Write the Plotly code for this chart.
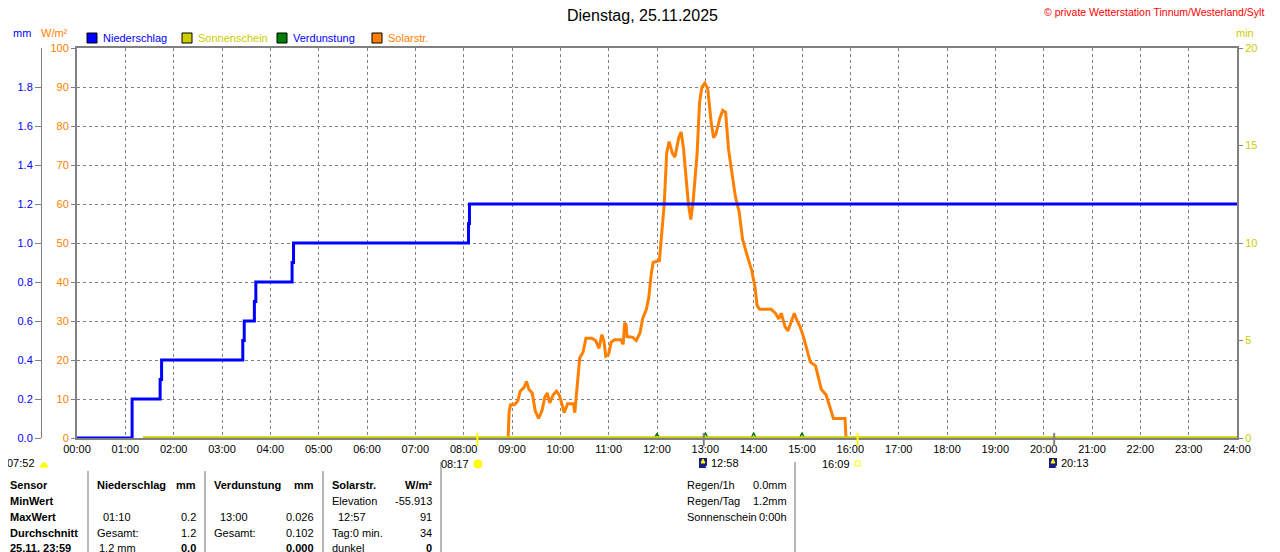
import plotly.graph_objects as go

# ---------------------------------------------------------------------------
# Data (times in hours of the day)
# ---------------------------------------------------------------------------

hour_labels = [f"{h:02d}:00" for h in range(25)]

rain_time = [0, 1.14, 1.72, 1.75, 3.43, 3.46, 3.67, 3.70, 4.45, 4.48, 8.10, 8.12, 24]
rain_mm = [0, 0.2, 0.3, 0.4, 0.5, 0.6, 0.7, 0.8, 0.9, 1.0, 1.1, 1.2, 1.2]

sun_time = [1.37, 24]
sun_min = [0, 0]

evap_time = [1.37, 11.95, 12.0, 12.05, 12.95, 13.0, 13.05, 13.95, 14.0, 14.05,
             14.95, 15.0, 15.05, 24]
evap_mm = [0, 0, 0.024, 0, 0, 0.026, 0, 0, 0.026, 0, 0, 0.026, 0, 0]

solar_time = [
    8.92, 8.94, 8.97, 9.05, 9.12, 9.17, 9.25, 9.30, 9.35, 9.42, 9.48, 9.55,
    9.62, 9.68, 9.73, 9.78, 9.85, 9.92, 9.98, 10.03, 10.08, 10.15, 10.27,
    10.30, 10.33, 10.40, 10.47, 10.53, 10.65, 10.73, 10.80, 10.86, 10.90,
    10.94, 11.00, 11.05, 11.12, 11.25, 11.30, 11.33, 11.36, 11.38, 11.50,
    11.57, 11.65, 11.70, 11.78, 11.83, 11.88, 11.92, 12.05, 12.10, 12.15,
    12.20, 12.25, 12.32, 12.37, 12.45, 12.50, 12.55, 12.60, 12.65, 12.70,
    12.75, 12.83, 12.88, 12.93, 12.99, 13.05, 13.12, 13.17, 13.22, 13.30,
    13.36, 13.42, 13.48, 13.55, 13.62, 13.70, 13.77, 13.86, 13.96, 14.03,
    14.07, 14.12, 14.36, 14.45, 14.52, 14.57, 14.65, 14.71, 14.78, 14.84,
    14.90, 14.96, 15.03, 15.10, 15.17, 15.28, 15.35, 15.40, 15.50, 15.57,
    15.65, 15.89, 15.91,
]
solar_wm2 = [
    0, 6.7, 8.5, 8.5, 9.5, 12, 13, 14.5, 12.5, 11.5, 7, 5,
    7, 10.5, 11.5, 9, 11, 12, 11, 8.5, 6.5, 8.8, 8.8,
    6.5, 11, 20.5, 22, 25.6, 25.6, 25, 23, 26.5, 25,
    21, 21.5, 24.5, 25.2, 25.2, 24, 29.5, 29, 26, 25.8,
    25, 27, 30.5, 33, 36, 42, 45, 45.5, 53, 60,
    73, 76, 73, 72, 77, 78.5, 74, 66, 60, 56,
    61, 73, 86, 90, 91, 89.5, 81, 77, 78, 82,
    84, 83.5, 74, 68, 62, 58, 51, 47, 43, 38.5,
    34, 33, 33, 32, 30.5, 32, 28.5, 27.5, 30, 32,
    30, 28.5, 26, 23, 19.5, 18.5, 14.5, 12.5, 11, 8,
    5, 5, 0,
]

# sun / moon events: label, time, kind
event_labels = ["08:17", "12:58", "16:09", "20:13"]
event_time = [8.283, 12.967, 16.15, 20.217]
event_kind = ["sunrise", "moonrise", "sunset", "moonset"]

sensor_labels = ["Sensor", "MinWert", "MaxWert", "Durchschnitt", "25.11. 23:59"]
rain_cells = [("Niederschlag", "mm"), ("", ""), ("01:10", "0.2"),
              ("Gesamt:", "1.2"), ("1.2 mm", "0.0")]
evap_cells = [("Verdunstung", "mm"), ("", ""), ("13:00", "0.026"),
              ("Gesamt:", "0.102"), ("", "0.000")]
solar_cells = [("Solarstr.", "W/m²"), ("Elevation", "-55.913"), ("12:57", "91"),
               ("Tag:0 min.", "34"), ("dunkel", "0")]
summary_labels = ["Regen/1h", "Regen/Tag", "Sonnenschein"]
summary_values = ["0.0mm", "1.2mm", "0:00h"]

# ---------------------------------------------------------------------------
# Style / page geometry
# ---------------------------------------------------------------------------

BLUE = "#0000ff"
ORANGE = "#ff8000"
YELLOW = "#cccc00"
GREEN = "#008000"
GREY = "#808080"
FONT = "Liberation Sans"

PAGE_OFF = 8                                  # default body margin of the html page
W, H = 1280 - PAGE_OFF, 552 - PAGE_OFF
L_PX, R_PX, T_PX, B_PX = 77, 1237, 48, 438    # plot frame in page pixels
PAPER_W = R_PX - PAGE_OFF                     # margin.l = 0


def px(x):
    return (x - PAGE_OFF) / PAPER_W


def py(y):
    return (B_PX - y) / (B_PX - T_PX)


def text(x, y, s, color="black", size=11, anchor="left", bold=False, xref="paper"):
    return dict(
        x=px(x) if xref == "paper" else x, y=py(y), xref=xref, yref="paper",
        text=f"<b>{s}</b>" if bold else s, showarrow=False,
        xanchor=anchor, yanchor="middle",
        font=dict(family=FONT, size=size, color=color),
    )


fig = go.Figure()

fig.add_trace(go.Scatter(x=solar_time, y=solar_wm2, mode="lines", name="Solarstr.",
                         line=dict(color=ORANGE, width=3), yaxis="y"))
fig.add_trace(go.Scatter(x=sun_time, y=sun_min, mode="lines", name="Sonnenschein",
                         line=dict(color=YELLOW, width=3.5), yaxis="y3"))
fig.add_trace(go.Scatter(x=evap_time, y=evap_mm, mode="lines", name="Verdunstung",
                         line=dict(color=GREEN, width=1.5), yaxis="y2"))
fig.add_trace(go.Scatter(x=rain_time, y=rain_mm, mode="lines", name="Niederschlag",
                         line=dict(color=BLUE, width=3, shape="hv"), yaxis="y2"))

annotations = []
shapes = []

# title, copyright, unit labels
annotations.append(text(642, 15, "Dienstag, 25.11.2025", size=16, anchor="center"))
annotations.append(text(1266, 12, "© private Wetterstation Tinnum/Westerland/Sylt",
                        color="#ff0000", size=10.5, anchor="right"))
annotations.append(text(22, 33, "mm", color=BLUE, anchor="center"))
annotations.append(text(54, 33, "W/m²", color=ORANGE, anchor="center"))
annotations.append(text(1245, 33, "min", color=YELLOW, anchor="center"))

# legend
legend = [("Niederschlag", BLUE, BLUE, 87), ("Sonnenschein", YELLOW, YELLOW, 182),
          ("Verdunstung", GREEN, BLUE, 277), ("Solarstr.", ORANGE, ORANGE, 372)]
for name, box, col, x0 in legend:
    shapes.append(dict(type="rect", xref="paper", yref="paper",
                       x0=px(x0), x1=px(x0 + 10), y0=py(43), y1=py(33),
                       fillcolor=box, line=dict(color="black", width=1)))
    annotations.append(text(x0 + 14, 38, name, color=col))

# sun / moon events below the axis
for label, t, kind in zip(event_labels, event_time, event_kind):
    yellow = kind in ("sunrise", "sunset")
    shapes.append(dict(type="line", xref="x", yref="paper", x0=t, x1=t,
                       y0=py(433), y1=py(446),
                       line=dict(color="#ffff00" if yellow else GREY, width=2)))
    if yellow:
        a = text(t, 464, label, anchor="right", xref="x")
        a["xshift"] = -6
    else:
        a = text(t, 463, label, anchor="left", xref="x")
        a["xshift"] = 5
    annotations.append(a)

# event icons (page pixel positions)
shapes.append(dict(type="circle", xref="paper", yref="paper",
                   x0=px(474), x1=px(482), y0=py(468), y1=py(460),
                   fillcolor="#ffff00", line=dict(color="#ffee00", width=1)))
shapes.append(dict(type="path", xref="paper", yref="paper",
                   path=f"M {px(40)} {py(467)} Q {px(44)} {py(458)} {px(48)} {py(467)} Z",
                   fillcolor="#ffff00", line=dict(color="#ffff00", width=1)))
shapes.append(dict(type="rect", xref="paper", yref="paper",
                   x0=px(855), x1=px(860), y0=py(466), y1=py(461),
                   fillcolor="white", line=dict(color="#ffff00", width=1)))
for x0 in (699, 1049):
    shapes.append(dict(type="rect", xref="paper", yref="paper",
                       x0=px(x0), x1=px(x0 + 8), y0=py(468), y1=py(458),
                       fillcolor="#1a1a80", line=dict(width=0)))
    shapes.append(dict(type="path", xref="paper", yref="paper",
                       path=f"M {px(x0 + 2)} {py(463)} L {px(x0 + 4)} {py(459)} "
                            f"L {px(x0 + 6)} {py(463)} Z",
                       fillcolor="#ffff00", line=dict(color="#ffff00", width=1)))
    annotations.append(text(x0 + 7, 466, "●", color="white", size=5, anchor="center"))
annotations.append(text(37, 463, "07:52", anchor="right"))

# table
row_y = [485, 501, 517, 533, 548]
for i, lab in enumerate(sensor_labels):
    annotations.append(text(8, row_y[i], lab, bold=True))
for cells, x_left, x_right in ((rain_cells, 95, 198), (evap_cells, 212, 316),
                               (solar_cells, 330, 434)):
    for i, (left, right) in enumerate(cells):
        indent = 6 if i == 2 else (2 if left.endswith(" mm") else 0)
        if left:
            annotations.append(text(x_left + indent, row_y[i], left, bold=(i == 0)))
        if right:
            annotations.append(text(x_right, row_y[i], right, anchor="right",
                                    bold=(i == 0 or i == 4)))
for i, (lab, val) in enumerate(zip(summary_labels, summary_values)):
    annotations.append(text(685, row_y[i], lab))
    annotations.append(text(789, row_y[i], val, anchor="right"))

for x0, y0 in ((88, 471), (205, 471), (323, 471), (441, 462), (795, 462)):
    shapes.append(dict(type="line", xref="paper", yref="paper",
                       x0=px(x0), x1=px(x0), y0=py(y0), y1=py(560),
                       line=dict(color="#a0a0a0", width=1.5)))

fig.update_layout(
    width=W,
    height=H,
    margin=dict(l=0, r=1280 - R_PX, t=T_PX - PAGE_OFF, b=552 - B_PX, pad=0),
    paper_bgcolor="white",
    plot_bgcolor="white",
    showlegend=False,
    font=dict(family=FONT, size=11, color="black"),
    xaxis=dict(
        domain=[px(L_PX), 1],
        range=[0, 24],
        tickvals=list(range(25)),
        ticktext=hour_labels,
        tickfont=dict(size=11, color="black"),
        showgrid=True,
        gridcolor=GREY,
        griddash="3px,3px",
        gridwidth=1,
        showline=True,
        linecolor=GREY,
        linewidth=2,
        mirror=True,
        ticks="",
        zeroline=False,
        automargin=False,
    ),
    yaxis=dict(
        range=[0, 100],
        dtick=10,
        tickfont=dict(size=11, color=ORANGE),
        ticks="outside",
        ticklen=4,
        tickcolor=GREY,
        showgrid=True,
        gridcolor=GREY,
        griddash="3px,3px",
        showline=True,
        linecolor=GREY,
        linewidth=2,
        zeroline=False,
        automargin=False,
    ),
    yaxis2=dict(
        overlaying="y",
        anchor="free",
        position=px(41),
        side="left",
        range=[0, 2],
        tickvals=[round(0.2 * i, 1) for i in range(10)],
        ticktext=[f"{0.2 * i:.1f}" for i in range(10)],
        tickfont=dict(size=11, color=BLUE),
        ticks="outside",
        ticklen=6,
        tickcolor=GREY,
        showgrid=False,
        showline=True,
        linecolor=GREY,
        linewidth=1,
        zeroline=False,
        automargin=False,
    ),
    yaxis3=dict(
        overlaying="y",
        anchor="x",
        side="right",
        range=[0, 20],
        dtick=5,
        tickfont=dict(size=11, color=YELLOW),
        ticks="outside",
        ticklen=4,
        tickcolor=GREY,
        showgrid=False,
        showline=True,
        linecolor=GREY,
        linewidth=2,
        zeroline=False,
        automargin=False,
    ),
    annotations=annotations,
    shapes=shapes,
)

fig.write_html("out.html")
